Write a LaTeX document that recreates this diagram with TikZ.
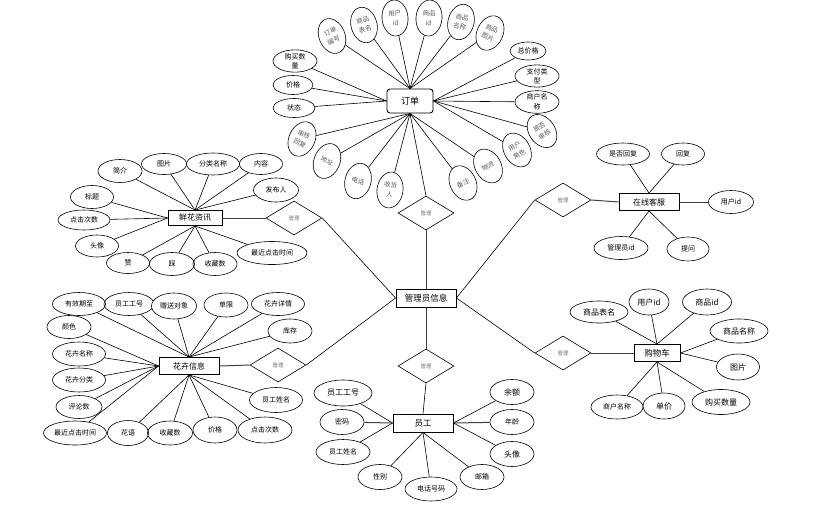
\documentclass[tikz,border=0pt]{standalone}
\usepackage{fontspec}
\setmainfont{Noto Sans CJK SC}
\usetikzlibrary{shapes.geometric}
\tikzset{
  ent/.style={draw, line width=0.9pt, minimum width=60, minimum height=17, inner sep=0, font=\fontsize{8}{9}\selectfont},
  attr/.style={ellipse, draw, line width=0.6pt, inner sep=0, align=center, font=\fontsize{7}{9.5}\selectfont},
  oat/.style={ellipse, draw, line width=0.6pt, inner sep=0, align=center, minimum width=26, minimum height=36, text=black!65, font=\fontsize{6.5}{9.5}\selectfont},
  rel/.style={diamond, draw, line width=0.6pt, inner sep=0, minimum width=56, minimum height=34, text=black!55, font=\fontsize{5.5}{6}\selectfont},
  ln/.style={line width=0.6pt},
  tk/.style={line width=1pt, black!75}
}
\begin{document}
\begin{tikzpicture}[x=1pt,y=-1pt]
\useasboundingbox (0,0) rectangle (825,509);
% ---------- 订单 ----------
\node[ent, rounded corners=3pt, minimum width=46, minimum height=24, font=\fontsize{9}{10}\selectfont] (dd) at (410,101) {订单};
\node[oat, rotate=22] (o1) at (332,36) {订单\\编号};
\node[oat, rotate=15] (o2) at (364,25) {商品\\表名};
\node[oat, rotate=5] (o3) at (395,18) {用户\\id};
\node[oat, rotate=-5] (o4) at (429,18) {商品\\id};
\node[oat, rotate=-15] (o5) at (461,22) {商品\\名称};
\node[oat, rotate=-25] (o6) at (490,33) {商品\\图片};
\node[attr, minimum width=44, minimum height=22] (o7) at (295,61) {购买数\\量};
\node[attr, minimum width=40, minimum height=19] (o8) at (293,85) {价格};
\node[attr, minimum width=42, minimum height=19] (o9) at (294,108) {状态};
\node[oat, rotate=-25] (o10) at (302,139) {审核\\回复};
\node[oat, rotate=-22] (o11) at (327,161) {地址};
\node[oat, rotate=-15] (o12) at (358,181) {电话};
\node[oat, rotate=-8] (o13) at (390,190) {收货\\人};
\node[oat, rotate=25] (o14) at (463,183) {备注};
\node[oat, rotate=30] (o15) at (488,166) {物流};
\node[oat, rotate=30] (o16) at (517,150) {用户\\角色};
\node[oat, rotate=35] (o17) at (542,131) {是否\\审核};
\node[attr, minimum width=36, minimum height=18] (o18) at (528,51) {总价格};
\node[attr, minimum width=44, minimum height=22] (o19) at (537,76) {支付类\\型};
\node[attr, minimum width=44, minimum height=22] (o20) at (537,102) {商户名\\称};
\foreach \n in {o1,o2,o3,o4,o5,o6} \draw[ln] (\n) -- (dd.north);
\foreach \n in {o7,o8,o9} \draw[ln] (\n) -- (dd.west);
\foreach \n in {o18,o19,o20,o16,o17} \draw[ln] (\n) -- (dd.east);
\foreach \n in {o10,o11,o12,o13,o14,o15} \draw[ln] (\n) -- (dd.south);
% ---------- 管理员信息 ----------
\node[ent, minimum width=60, minimum height=18, font=\fontsize{8.5}{9}\selectfont] (gl) at (426,298) {管理员信息};
\node[rel] (r1) at (426,213) {管理};
\node[rel] (r2) at (563,200) {管理};
\node[rel] (r3) at (563,353) {管理};
\node[rel] (r4) at (426,366) {管理};
\node[rel] (r5) at (294,218) {管理};
\node[rel] (r6) at (278,365) {管理};
\draw[ln] (dd.south) -- (r1.north);
\draw[tk] (r1.south) -- (gl.north);
\draw[ln] (gl.east) -- (r2.west);
\draw[ln] (gl.east) -- (r3.west);
\draw[tk] (gl.south) -- (r4.north);
\draw[ln] (gl.west) -- (r5.east);
\draw[ln] (gl.west) -- (r6.east);
% ---------- 鲜花资讯 ----------
\node[ent, minimum width=54, minimum height=15] (xh) at (195,218) {鲜花资讯};
\node[attr, minimum width=44, minimum height=23] (x1) at (120,171) {简介};
\node[attr, minimum width=45, minimum height=21] (x2) at (164,164) {图片};
\node[attr, minimum width=53, minimum height=22] (x3) at (213,164) {分类名称};
\node[attr, minimum width=43, minimum height=21] (x4) at (261,164) {内容};
\node[attr, minimum width=45, minimum height=24] (x5) at (276,190) {发布人};
\node[attr, minimum width=43, minimum height=23] (x6) at (92,197) {标题};
\node[attr, minimum width=52, minimum height=20] (x7) at (84,220) {点击次数};
\node[attr, minimum width=43, minimum height=22] (x8) at (97,246) {头像};
\node[attr, minimum width=43, minimum height=21] (x9) at (128,263) {赞};
\node[attr, minimum width=45, minimum height=23] (x10) at (172,264) {踩};
\node[attr, minimum width=44, minimum height=23] (x11) at (215,264) {收藏数};
\node[attr, minimum width=70, minimum height=23] (x12) at (272,253) {最近点击时间};
\foreach \n in {x1,x2,x3,x4,x5} \draw[ln] (\n) -- (xh.north);
\foreach \n in {x6,x7,x8} \draw[ln] (\n) -- (xh.west);
\foreach \n in {x9,x10,x11,x12} \draw[ln] (\n) -- (xh.south);
\draw[tk] (xh.east) -- (r5.west);
% ---------- 花卉信息 ----------
\node[ent, minimum width=60, minimum height=17] (hh) at (189,366) {花卉信息};
\node[attr, minimum width=53, minimum height=23] (h1) at (79,304) {有效期至};
\node[attr, minimum width=50, minimum height=23] (h2) at (129,304) {员工工号};
\node[attr, minimum width=45, minimum height=26, fill=white] (h3) at (174,306) {赠送对象};
\node[attr, minimum width=44, minimum height=24] (h4) at (226,305) {单限};
\node[attr, minimum width=53, minimum height=23] (h5) at (278,304) {花卉详情};
\node[attr, minimum width=44, minimum height=24] (h6) at (290,331) {库存};
\node[attr, minimum width=44, minimum height=23] (h7) at (69,327) {颜色};
\node[attr, minimum width=53, minimum height=24] (h8) at (79,354) {花卉名称};
\node[attr, minimum width=53, minimum height=24] (h9) at (79,380) {花卉分类};
\node[attr, minimum width=46, minimum height=23] (h10) at (79,407) {评论数};
\node[attr, minimum width=63, minimum height=24] (h11) at (75,433) {最近点击时间};
\node[attr, minimum width=41, minimum height=25, fill=white] (h12) at (128,433) {花语};
\node[attr, minimum width=45, minimum height=24] (h13) at (170,433) {收藏数};
\node[attr, minimum width=44, minimum height=26] (h14) at (215,430) {价格};
\node[attr, minimum width=54, minimum height=26] (h15) at (265,430) {点击次数};
\node[attr, minimum width=53, minimum height=25] (h16) at (276,400) {员工姓名};
\foreach \n in {h1,h2,h3,h4,h5,h6} \draw[ln] (\n) -- (hh.north);
\foreach \n in {h7,h8,h9,h10,h11} \draw[ln] (\n) -- (hh.west);
\foreach \n in {h12,h13,h14,h15,h16} \draw[ln] (\n) -- (hh.south);
\draw[tk] (hh.east) -- (r6.west);
% ---------- 员工 ----------
\node[ent, minimum width=60, minimum height=18, font=\fontsize{8.5}{9}\selectfont] (yg) at (423,423) {员工};
\node[attr, minimum width=58, minimum height=26, font=\fontsize{8}{9}\selectfont] (y1) at (343,393) {员工工号};
\node[attr, minimum width=44, minimum height=25] (y2) at (342,422) {密码};
\node[attr, minimum width=54, minimum height=25] (y3) at (343,452) {员工姓名};
\node[attr, minimum width=44, minimum height=25] (y4) at (380,477) {性别};
\node[attr, minimum width=52, minimum height=24] (y5) at (431,489) {电话号码};
\node[attr, minimum width=44, minimum height=25] (y6) at (482,477) {邮箱};
\node[attr, minimum width=44, minimum height=25, font=\fontsize{8}{9}\selectfont] (y7) at (512,392) {余额};
\node[attr, minimum width=44, minimum height=25] (y8) at (512,422) {年龄};
\node[attr, minimum width=44, minimum height=25, font=\fontsize{8}{9}\selectfont] (y9) at (512,454) {头像};
\draw[ln] (r4.south) -- (yg.north);
\draw[ln] (y1) -- (yg.west);
\draw[tk] (y2) -- (yg.west);
\draw[ln] (y3) -- (yg.west);
\foreach \n in {y4,y5,y6} \draw[ln] (\n) -- (yg.south);
\draw[ln] (y7) -- (yg.east);
\draw[tk] (y8) -- (yg.east);
\draw[ln] (y9) -- (yg.east);
% ---------- 在线客服 ----------
\node[ent, minimum width=60, minimum height=17] (kf) at (649,202) {在线客服};
\node[attr, minimum width=53, minimum height=22] (k1) at (623,154) {是否回复};
\node[attr, minimum width=43, minimum height=22] (k2) at (683,154) {回复};
\node[attr, minimum width=45, minimum height=23] (k3) at (731,202) {用户id};
\node[attr, minimum width=54, minimum height=23] (k4) at (621,248) {管理员id};
\node[attr, minimum width=42, minimum height=24] (k5) at (688,249) {提问};
\draw[ln] (k1) -- (kf.north);
\draw[ln] (k2) -- (kf.north);
\draw[tk] (k3) -- (kf.east);
\draw[ln] (k4) -- (kf.south);
\draw[ln] (k5) -- (kf.south);
\draw[tk] (r2.east) -- (kf.west);
% ---------- 购物车 ----------
\node[ent, minimum width=46, minimum height=17, font=\fontsize{8.5}{9}\selectfont] (gw) at (657,353) {购物车};
\node[attr, minimum width=58, minimum height=22, font=\fontsize{8}{9}\selectfont] (g1) at (599,312) {商品表名};
\node[attr, minimum width=40, minimum height=26, font=\fontsize{8}{9}\selectfont] (g2) at (649,302) {用户id};
\node[attr, minimum width=49, minimum height=26, font=\fontsize{8}{9}\selectfont] (g3) at (707,302) {商品id};
\node[attr, minimum width=58, minimum height=24, font=\fontsize{8}{9}\selectfont] (g4) at (739,331) {商品名称};
\node[attr, minimum width=43, minimum height=26, font=\fontsize{8}{9}\selectfont] (g5) at (738,367) {图片};
\node[attr, minimum width=58, minimum height=25, font=\fontsize{8}{9}\selectfont] (g6) at (721,402) {购买数量};
\node[attr, minimum width=42, minimum height=26, font=\fontsize{8}{9}\selectfont] (g7) at (664,406) {单价};
\node[attr, minimum width=52, minimum height=24] (g8) at (617,407) {商户名称};
\foreach \n in {g1,g2,g3} \draw[ln] (\n) -- (gw.north);
\foreach \n in {g4,g5} \draw[ln] (\n) -- (gw.east);
\foreach \n in {g6,g7,g8} \draw[ln] (\n) -- (gw.south);
\draw[tk] (r3.east) -- (gw.west);
\end{tikzpicture}
\end{document}
